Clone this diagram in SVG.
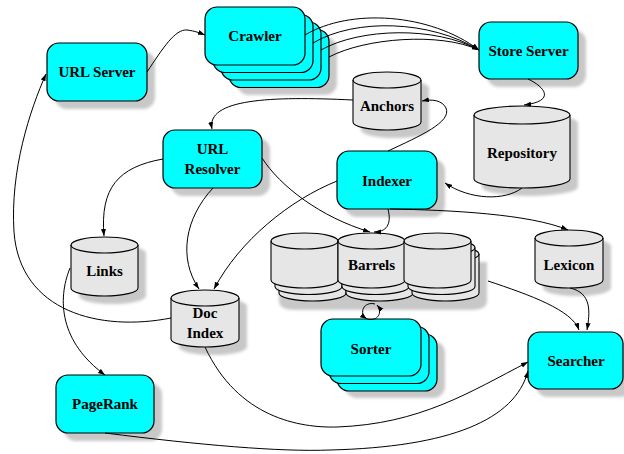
<svg xmlns="http://www.w3.org/2000/svg" xmlns:xlink="http://www.w3.org/1999/xlink" width="624" height="454" viewBox="0 0 624 454">
  <style>
    .box { fill: #00ffff; stroke: #000; stroke-width: 1.2; }
    .cyl { fill: #e6e6e6; stroke: #000; stroke-width: 1.1; }
    .rim { fill: none; stroke: #000; stroke-width: 1.1; }
    .shadow { fill: #c8c8c8; stroke: none; filter: url(#soft); }
    .edge { fill: none; stroke: #000; stroke-width: 1; marker-end: url(#arrow); }
  </style>
  <defs>
    <filter id="soft" x="-20%" y="-20%" width="140%" height="140%">
      <feGaussianBlur stdDeviation="1.6"/>
    </filter>
    <marker id="arrow" markerUnits="userSpaceOnUse" markerWidth="8" markerHeight="6" refX="7" refY="2.5" orient="auto">
      <path d="M0,0 L7,2.5 L0,5 z" fill="#000"/>
    </marker>
    <!-- one barrel cylinder, placed at its top-left corner -->
    <g id="barrel">
      <path class="cyl" d="M0,8 A33.5,8 0 0 1 67,8 V47 A33.5,8 0 0 1 0,47 Z"/>
      <path class="rim" d="M0,8 A33.5,8 0 0 0 67,8"/>
    </g>
  </defs>

  <rect width="624" height="454" fill="#fff"/>

  <!-- URL Server -->
  <g id="url-server">
    <rect class="shadow" x="55" y="51" width="100" height="58" rx="12"/>
    <rect class="box" x="47" y="43" width="100" height="58" rx="12"/>
    <text font-family="Liberation Serif" font-weight="bold" font-size="15" text-anchor="middle" x="97" y="77">URL Server</text>
  </g>

  <!-- Crawler (stack of four) -->
  <g id="crawler">
    <rect class="shadow" x="237" y="37" width="100" height="58" rx="12"/>
    <rect class="box" x="229" y="29.5" width="100" height="58" rx="12"/>
    <rect class="box" x="221" y="22" width="100" height="58" rx="12"/>
    <rect class="box" x="213" y="14.5" width="100" height="58" rx="12"/>
    <rect class="box" x="205" y="7" width="100" height="58" rx="12"/>
    <text font-family="Liberation Serif" font-weight="bold" font-size="15" text-anchor="middle" x="255" y="41">Crawler</text>
  </g>

  <!-- Store Server -->
  <g id="store-server">
    <rect class="shadow" x="487" y="30" width="99" height="57" rx="12"/>
    <rect class="box" x="479" y="22" width="99" height="57" rx="12"/>
    <text font-family="Liberation Serif" font-weight="bold" font-size="15" text-anchor="middle" x="528.5" y="56">Store Server</text>
  </g>

  <!-- Anchors -->
  <g id="anchors">
    <path class="shadow" d="M361,88 A34,8 0 0 1 429,88 V130 A34,8 0 0 1 361,130 Z"/>
    <path class="cyl" d="M353,80 A34,8 0 0 1 421,80 V122 A34,8 0 0 1 353,122 Z"/>
    <path class="rim" d="M353,80 A34,8 0 0 0 421,80"/>
    <text font-family="Liberation Serif" font-weight="bold" font-size="15" text-anchor="middle" x="387" y="111">Anchors</text>
  </g>

  <!-- Repository -->
  <g id="repository">
    <path class="shadow" d="M482,123 A48,9 0 0 1 578,123 V187 A48,9 0 0 1 482,187 Z"/>
    <path class="cyl" d="M474,115 A48,9 0 0 1 570,115 V179 A48,9 0 0 1 474,179 Z"/>
    <path class="rim" d="M474,115 A48,9 0 0 0 570,115"/>
    <text font-family="Liberation Serif" font-weight="bold" font-size="15" text-anchor="middle" x="522" y="158">Repository</text>
  </g>

  <!-- URL Resolver -->
  <g id="url-resolver">
    <rect class="shadow" x="171" y="138" width="99" height="58" rx="12"/>
    <rect class="box" x="163" y="130" width="99" height="58" rx="12"/>
    <text font-family="Liberation Serif" font-weight="bold" font-size="15" text-anchor="middle" x="212.5" y="154">URL</text>
    <text font-family="Liberation Serif" font-weight="bold" font-size="15" text-anchor="middle" x="212.5" y="174">Resolver</text>
  </g>

  <!-- Indexer -->
  <g id="indexer">
    <rect class="shadow" x="345" y="159" width="100" height="58" rx="12"/>
    <rect class="box" x="337" y="151" width="100" height="58" rx="12"/>
    <text font-family="Liberation Serif" font-weight="bold" font-size="15" text-anchor="middle" x="387" y="186">Indexer</text>
  </g>

  <!-- Links -->
  <g id="links">
    <path class="shadow" d="M79,253 A33.5,8 0 0 1 146,253 V296 A33.5,8 0 0 1 79,296 Z"/>
    <path class="cyl" d="M71,245 A33.5,8 0 0 1 138,245 V288 A33.5,8 0 0 1 71,288 Z"/>
    <path class="rim" d="M71,245 A33.5,8 0 0 0 138,245"/>
    <text font-family="Liberation Serif" font-weight="bold" font-size="15" text-anchor="middle" x="104.5" y="276">Links</text>
  </g>

  <!-- Doc Index -->
  <g id="doc-index">
    <path class="shadow" d="M179,306 A34,8 0 0 1 247,306 V347 A34,8 0 0 1 179,347 Z"/>
    <path class="cyl" d="M171,298 A34,8 0 0 1 239,298 V339 A34,8 0 0 1 171,339 Z"/>
    <path class="rim" d="M171,298 A34,8 0 0 0 239,298"/>
    <text font-family="Liberation Serif" font-weight="bold" font-size="15" text-anchor="middle" x="205" y="318">Doc</text>
    <text font-family="Liberation Serif" font-weight="bold" font-size="15" text-anchor="middle" x="205" y="338">Index</text>
  </g>

  <!-- Barrels: three stacks of three cylinders -->
  <g id="barrels">
    <path class="shadow" d="M279,262 H487 V301 Q487,310 470,310 H296 Q279,310 279,301 Z"/>
    <use xlink:href="#barrel" x="279" y="246"/>
    <use xlink:href="#barrel" x="275" y="239.5"/>
    <use xlink:href="#barrel" x="271" y="233"/>
    <use xlink:href="#barrel" x="346" y="246"/>
    <use xlink:href="#barrel" x="342" y="239.5"/>
    <use xlink:href="#barrel" x="338" y="233"/>
    <use xlink:href="#barrel" x="412" y="246"/>
    <use xlink:href="#barrel" x="408" y="239.5"/>
    <use xlink:href="#barrel" x="404" y="233"/>
    <text font-family="Liberation Serif" font-weight="bold" font-size="15" text-anchor="middle" x="371.5" y="270">Barrels</text>
  </g>

  <!-- Lexicon -->
  <g id="lexicon">
    <path class="shadow" d="M543,246 A34,8 0 0 1 611,246 V288 A34,8 0 0 1 543,288 Z"/>
    <path class="cyl" d="M535,238 A34,8 0 0 1 603,238 V280 A34,8 0 0 1 535,280 Z"/>
    <path class="rim" d="M535,238 A34,8 0 0 0 603,238"/>
    <text font-family="Liberation Serif" font-weight="bold" font-size="15" text-anchor="middle" x="569" y="270">Lexicon</text>
  </g>

  <!-- Sorter (stack of three) -->
  <g id="sorter">
    <rect class="shadow" x="345" y="341" width="100" height="57" rx="12"/>
    <rect class="box" x="337" y="334" width="100" height="57" rx="12"/>
    <rect class="box" x="329" y="326.5" width="100" height="57" rx="12"/>
    <rect class="box" x="321" y="319" width="100" height="57" rx="12"/>
    <text font-family="Liberation Serif" font-weight="bold" font-size="15" text-anchor="middle" x="371" y="354">Sorter</text>
  </g>

  <!-- Searcher -->
  <g id="searcher">
    <rect class="shadow" x="536" y="340" width="96" height="57" rx="12"/>
    <rect class="box" x="528" y="332" width="95" height="57" rx="12"/>
    <text font-family="Liberation Serif" font-weight="bold" font-size="15" text-anchor="middle" x="576" y="366">Searcher</text>
  </g>

  <!-- PageRank -->
  <g id="pagerank">
    <rect class="shadow" x="64" y="383" width="98" height="58" rx="12"/>
    <rect class="box" x="56" y="375" width="98" height="58" rx="12"/>
    <text font-family="Liberation Serif" font-weight="bold" font-size="15" text-anchor="middle" x="105" y="409">PageRank</text>
  </g>

  <!-- Connectors -->
  <g id="connectors">
    <path class="edge" d="M147,72 C163,48 175,29 187,30 C195,31 200,33 205,35"/>
    <path class="edge" d="M305,35 C350,8 430,13 479,50"/>
    <path class="edge" d="M313,43 C355,18 430,20 479,50"/>
    <path class="edge" d="M321,50 C360,28 435,26 479,50"/>
    <path class="edge" d="M329,57 C365,38 440,32 479,50"/>
    <path class="edge" d="M528,79 C545,87 556,101 524,105"/>
    <path class="edge" d="M522,188 C505,201 470,200 445,183"/>
    <path class="edge" d="M388,151 C420,136 452,122 446,108 C442,100 432,99 422,101"/>
    <path class="edge" d="M353,100 C270,96 206,99 212,129"/>
    <path class="edge" d="M163,159 C118,167 100,188 104,236"/>
    <path class="edge" d="M213,188 C185,218 178,258 199,289"/>
    <path class="edge" d="M337,181 C290,200 240,240 214,289"/>
    <path class="edge" d="M262,158 C280,186 320,217 370,232"/>
    <path class="edge" d="M388,209 C392,225 386,232 374,232"/>
    <path class="edge" d="M390,209 C450,210 530,214 568,230"/>
    <path class="edge" d="M488,281 C530,295 572,310 579,330"/>
    <path class="edge" d="M570,288 C592,293 590,312 587,330"/>
    <path class="edge" d="M205,347 C238,418 300,428 337,427 C420,424 470,392 528,362"/>
    <path class="edge" d="M105,433 C200,445 280,452 330,450 C450,447 515,420 528,371"/>
    <path class="edge" d="M70,268 C57,300 60,342 105,375"/>
    <path class="edge" d="M171,318 C100,332 20,312 14,232 C10,170 30,110 46,74"/>
    <path class="edge" d="M375,304 C364,301 358,313 367,319"/>
    <path class="edge" d="M367,319 C378,322 383,312 377,305"/>
  </g>
</svg>
